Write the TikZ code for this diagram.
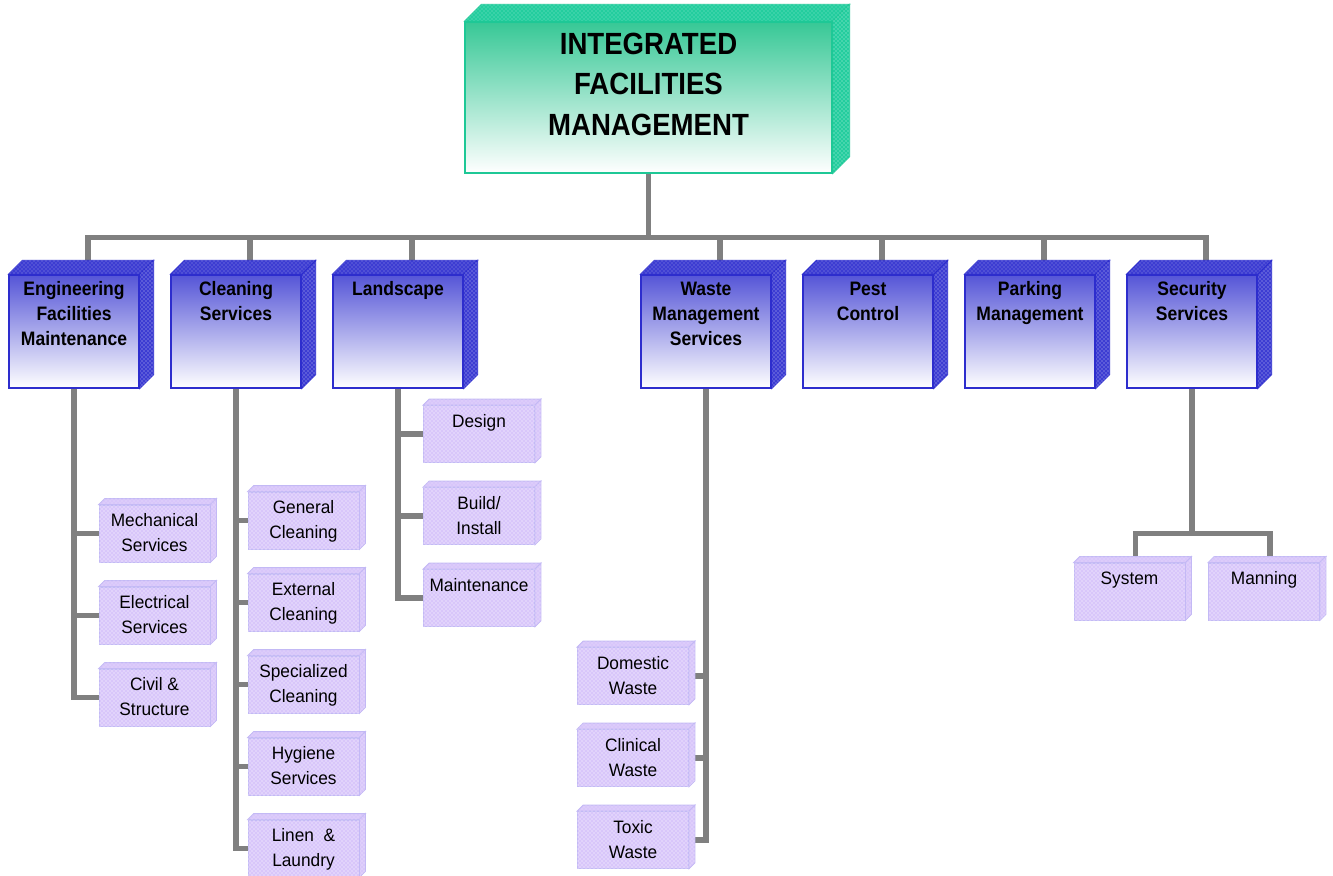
\documentclass[tikz,border=0pt]{standalone}
\usepackage{fontspec}
\setmainfont{Liberation Sans}
\newfontfamily\boxfont[FakeStretch=0.9]{Liberation Sans}
\newfontfamily\leaffont[FakeStretch=0.96]{Liberation Sans}
\usetikzlibrary{calc, patterns, backgrounds}

\definecolor{tealedge}{RGB}{30,200,150}
\definecolor{tealface}{RGB}{35,205,158}
\definecolor{tealtop}{RGB}{55,200,150}
\definecolor{blueedge}{RGB}{45,45,205}
\definecolor{blueface}{RGB}{60,60,210}
\definecolor{bluetop}{RGB}{85,85,215}
\definecolor{lilac}{RGB}{216,198,250}
\definecolor{lilacedge}{RGB}{195,185,245}
\definecolor{linkgray}{RGB}{128,128,128}

% top and side faces of a box, #1 = depth
\tikzset{side3d/.style n args={3}{append after command={\pgfextra{%
  \edef\bx{\tikzlastnode}%
  \filldraw[fill=#2, draw=#3, line width=0.6pt,
    postaction={pattern=crosshatch dots, pattern color=white!45!#2}]
    (\bx.north west) -- ++(#1,-#1) -- ($(\bx.north east)+(#1,-#1)$) -- (\bx.north east) -- cycle;
  \filldraw[fill=#2, draw=#3, line width=0.6pt,
    postaction={pattern=crosshatch dots, pattern color=white!70!#2}]
    (\bx.north east) -- ++(#1,-#1) -- ($(\bx.south east)+(#1,-#1)$) -- (\bx.south east) -- cycle;
}}}}

\tikzstyle{topbox} = [rectangle,
minimum width=275.25pt,
minimum height=113.25pt,
line width=1pt,
draw=tealedge,
top color=tealtop, bottom color=white,
side3d={17}{tealface}{tealedge}]
\tikzstyle{bluebox} = [rectangle,
minimum width=97.5pt,
minimum height=84.75pt,
line width=1pt,
draw=blueedge,
top color=bluetop, bottom color=white,
side3d={14}{blueface}{blueedge}]
\tikzstyle{leafbox} = [rectangle,
minimum width=83.25pt,
minimum height=42.75pt,
line width=0.6pt,
draw=lilacedge, fill=lilac,
postaction={pattern=crosshatch dots, pattern color=white},
side3d={6}{lilac}{lilacedge}]
\tikzstyle{toptext} = [anchor=north, inner sep=0pt, yshift=-8.25pt, align=center,
font=\boxfont\bfseries\fontsize{23pt}{30.4pt}\selectfont]
\tikzstyle{bluetext} = [anchor=north, inner sep=0pt, yshift=-5.25pt, align=center,
font=\boxfont\bfseries\fontsize{14.6pt}{18.75pt}\selectfont]
\tikzstyle{leaftext} = [anchor=north, inner sep=0pt, yshift=-6.5pt, align=center,
font=\leaffont\fontsize{13.5pt}{18.75pt}\selectfont]
\tikzstyle{link} = [line width=3.9pt, draw=linkgray]

\begin{document}
\begin{tikzpicture}[x=0.75pt, y=-0.75pt, node distance=121.5pt]
\useasboundingbox (0,0) rectangle (1333,875);

\node (ifm) [topbox, label={[toptext]north:INTEGRATED\\FACILITIES\\MANAGEMENT}] at (648.5,97.5) {};

% second level
\node (eng) [bluebox, label={[bluetext]north:Engineering\\Facilities\\Maintenance}] at (74,331.5) {};
\node (cln) [bluebox, right of=eng, label={[bluetext]north:Cleaning\\Services}] {};
\node (lsc) [bluebox, right of=cln, label={[bluetext]north:Landscape}] {};
\node (wst) [bluebox, right of=lsc, xshift=109.5pt, label={[bluetext]north:Waste\\Management\\Services}] {};
\node (pst) [bluebox, right of=wst, label={[bluetext]north:Pest\\Control}] {};
\node (prk) [bluebox, right of=pst, label={[bluetext]north:Parking\\Management}] {};
\node (sec) [bluebox, right of=prk, label={[bluetext]north:Security\\Services}] {};

% third level
\begin{scope}[node distance=61.5pt]
\node (mech) [leafbox, label={[leaftext]north:Mechanical\\Services}] at (154.5,533.5) {};
\node (elec) [leafbox, below of=mech, label={[leaftext]north:Electrical\\Services}] {};
\node (civ) [leafbox, below of=elec, label={[leaftext]north:Civil \&\\Structure}] {};

\node (gen) [leafbox, label={[leaftext]north:General\\Cleaning}] at (303.5,520.5) {};
\node (ext) [leafbox, below of=gen, label={[leaftext]north:External\\Cleaning}] {};
\node (spc) [leafbox, below of=ext, label={[leaftext]north:Specialized\\Cleaning}] {};
\node (hyg) [leafbox, below of=spc, label={[leaftext]north:Hygiene\\Services}] {};
\node (lin) [leafbox, below of=hyg, label={[leaftext]north:Linen~~\&\\Laundry}] {};

\node (dsg) [leafbox, label={[leaftext]north:Design}] at (479,434) {};
\node (bld) [leafbox, below of=dsg, label={[leaftext]north:Build/\\Install}] {};
\node (mnt) [leafbox, below of=bld, label={[leaftext]north:Maintenance}] {};

\node (dom) [leafbox, label={[leaftext]north:Domestic\\Waste}] at (633,676) {};
\node (cli) [leafbox, below of=dom, label={[leaftext]north:Clinical\\Waste}] {};
\node (tox) [leafbox, below of=cli, label={[leaftext]north:Toxic\\Waste}] {};

\node (sys) [leafbox, label={[leaftext]north:System}] at (1129.5,591.5) {};
\node (man) [leafbox, label={[leaftext]north:Manning}] at (1264,591.5) {};
\end{scope}

% connectors
\begin{scope}[on background layer]
\draw [link] (ifm.south) -- ++(0,64) -| ($(eng.north)+(14,0)$);
\draw [link] (ifm.south) -- ++(0,64) -| ($(cln.north)+(14,0)$);
\draw [link] (ifm.south) -- ++(0,64) -| ($(lsc.north)+(14,0)$);
\draw [link] (ifm.south) -- ++(0,64) -| ($(wst.north)+(14,0)$);
\draw [link] (ifm.south) -- ++(0,64) -| ($(pst.north)+(14,0)$);
\draw [link] (ifm.south) -- ++(0,64) -| ($(prk.north)+(14,0)$);
\draw [link] (ifm.south) -- ++(0,64) -| ($(sec.north)+(14,0)$);

\draw [link] (eng.south) |- (mech.west);
\draw [link] (eng.south) |- (elec.west);
\draw [link] (eng.south) |- (civ.west);

\draw [link] (cln.south) |- (gen.west);
\draw [link] (cln.south) |- (ext.west);
\draw [link] (cln.south) |- (spc.west);
\draw [link] (cln.south) |- (hyg.west);
\draw [link] (cln.south) |- (lin.west);

\draw [link] (lsc.south) |- (dsg.west);
\draw [link] (lsc.south) |- (bld.west);
\draw [link] (lsc.south) |- (mnt.west);

\draw [link] (wst.south) |- (dom.east);
\draw [link] (wst.south) |- (cli.east);
\draw [link] (wst.south) |- (tox.east);

\draw [link] (sec.south) -- ++(0,145) -| ($(sys.north)+(6,0)$);
\draw [link] (sec.south) -- ++(0,145) -| ($(man.north)+(6,0)$);
\end{scope}

\end{tikzpicture}
\end{document}
